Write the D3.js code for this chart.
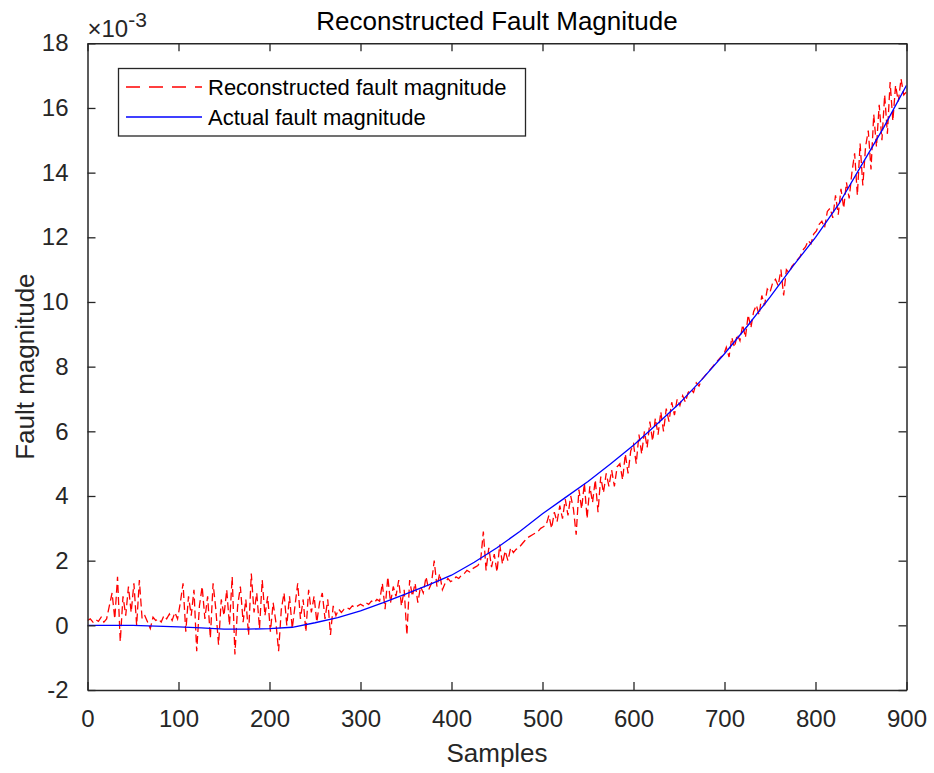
<!DOCTYPE html>
<html><head><meta charset="utf-8">
<script src="https://cdn.jsdelivr.net/npm/d3@7"></script>
<style>body{margin:0;background:#fff;} svg{display:block;}</style>
</head><body><svg id="c" width="934" height="773"></svg>
<script>
const xTicks = [0,100,200,300,400,500,600,700,800,900];
const yTicks = [-2,0,2,4,6,8,10,12,14,16,18];
const redStep = 3;
const reconstructed = [
0.15,0.2,0.1,0.18,0.12,0.25,0.1,0.2,
0.6,1.0,0.2,1.5,-0.5,0.9,0.3,1.2,0.4,1.3,0.0,1.4,0.2,
0.3,0.1,-0.1,0.25,0.15,0.2,0.1,0.3,0.2,0.35,0.15,0.4,0.2,
0.7,1.3,-0.2,0.9,0.3,1.1,-0.8,0.6,1.2,0.2,0.9,-0.4,1.3,0.5,-0.6,0.8,0.3,1.1,0.0,1.5,
-0.9,0.6,1.2,0.1,0.8,-0.3,1.6,0.4,1.0,-0.1,1.4,0.3,0.9,-0.2,0.7,0.1,-0.8,0.5,1.0,0.0,
0.9,-0.1,0.6,1.3,0.2,0.8,-0.2,1.1,0.4,0.9,0.1,0.7,1.0,0.2,0.8,-0.3,0.6,0.3,0.5,0.4,
0.5,0.55,0.5,0.6,0.55,0.6,0.65,0.6,0.7,0.65,0.75,0.7,0.8,0.75,
1.3,0.5,1.5,0.7,1.2,0.9,1.4,0.6,1.1,-0.3,1.4,0.9,1.3,0.7,1.2,1.0,1.5,1.1,1.3,2.0,1.2,1.6,1.1,1.3,
1.45,1.35,1.4,1.5,1.45,1.55,1.6,1.7,1.65,1.75,1.8,1.85,
2.0,2.9,1.7,2.4,1.8,2.2,1.65,2.5,1.9,2.3,2.0,2.4,2.25,2.35,2.4,
2.5,2.6,2.7,2.75,2.8,2.85,2.9,3.0,3.05,3.1,
3.4,3.0,3.5,3.2,3.7,3.3,3.9,3.4,4.0,3.6,2.8,4.2,3.6,4.4,3.3,4.3,3.8,4.5,3.5,4.6,4.1,4.7,4.3,
4.8,4.3,4.9,5.0,4.5,5.3,4.7,5.4,
5.6,5.0,5.9,5.3,6.0,5.5,6.3,5.7,6.4,5.9,6.6,6.0,6.7,6.3,6.9,6.5,7.0,6.8,7.1,6.9,7.2,
7.3,7.2,7.5,7.4,7.6,7.7,7.8,7.9,8.0,8.1,8.2,8.3,8.35,
8.6,8.3,8.9,8.6,9.0,8.8,9.3,8.9,9.6,9.2,9.7,9.9,9.6,10.2,9.9,10.4,10.3,10.6,10.7,10.5,11.0,10.2,11.0,10.9,11.1,11.2,
11.3,11.4,11.6,11.7,11.9,11.8,12.1,12.2,12.4,12.5,12.3,12.8,12.9,12.6,
13.3,12.7,13.5,12.9,13.7,13.2,14.0,14.6,13.3,14.9,13.6,14.8,15.3,14.1,15.8,14.8,16.1,15.0,16.4,15.2,16.8,15.6,16.7,16.2,16.9,16.4,16.5
];
const actualSamples = [0,50,100,125,150,175,200,225,250,275,300,325,350,375,400,425,450,475,500,525,550,575,600,625,650,675,700,725,750,775,800,825,850,875,900];
const actualValues = [0,0,-0.05,-0.08,-0.12,-0.12,-0.1,-0.06,0.08,0.24,0.45,0.7,0.97,1.25,1.55,1.95,2.4,2.9,3.45,3.95,4.45,5.0,5.57,6.2,6.85,7.6,8.4,9.25,10.15,11.1,12.0,13.0,14.2,15.4,16.7];
const legendLabels = ["Reconstructed fault magnitude","Actual fault magnitude"];

const svg = d3.select("#c");
const L=87.5,R=906.5,T=43.3,B=690;
const x = d3.scaleLinear().domain([0,900]).range([L,R]);
const y = d3.scaleLinear().domain([-2,18]).range([B,T]);
const ink = "#262626";
const font = "'Liberation Sans', Arial, Helvetica, sans-serif";

svg.append("clipPath").attr("id","pc").append("rect")
  .attr("x",L).attr("y",T).attr("width",R-L).attr("height",B-T);

const redData = reconstructed.map((v,i)=>[i*redStep,v]);
const blueData = actualSamples.map((s,i)=>[s,actualValues[i]]);
const line = d3.line().x(d=>x(d[0])).y(d=>y(d[1]));

const g = svg.append("g").attr("clip-path","url(#pc)");
g.append("path").attr("d",line(redData)).attr("fill","none")
  .attr("stroke","#ff0000").attr("stroke-width",1.3).attr("stroke-dasharray","8,4");
g.append("path").attr("d",line(blueData)).attr("fill","none")
  .attr("stroke","#0000ff").attr("stroke-width",1.3);

const tl = 8;
const fmt = d => String(d);
const axB = d3.axisBottom(x).tickValues(xTicks).tickFormat(fmt).tickSize(-tl).tickPadding(tl+12).tickSizeOuter(0);
const axT = d3.axisTop(x).tickValues(xTicks).tickSize(-tl).tickFormat("").tickSizeOuter(0);
const axL = d3.axisLeft(y).tickValues(yTicks).tickFormat(fmt).tickSize(-tl).tickPadding(tl+11).tickSizeOuter(0);
const axR = d3.axisRight(y).tickValues(yTicks).tickSize(-tl).tickFormat("").tickSizeOuter(0);
function style(sel){
  sel.selectAll("path").attr("stroke",ink).attr("stroke-width",1.5);
  sel.selectAll("line").attr("stroke",ink).attr("stroke-width",1.3);
  sel.selectAll("text").attr("fill",ink).attr("font-family",font).attr("font-size",24);
}
svg.append("g").attr("transform",`translate(0,${B})`).call(axB).call(style);
svg.append("g").attr("transform",`translate(0,${T})`).call(axT).call(style);
svg.append("g").attr("transform",`translate(${L},0)`).call(axL).call(style);
svg.append("g").attr("transform",`translate(${R},0)`).call(axR).call(style);

const ex = svg.append("text").attr("x",L).attr("y",37).attr("fill",ink).attr("font-family",font).attr("font-size",24);
ex.append("tspan").text("×10");
ex.append("tspan").attr("dy",-10).attr("font-size",21).text("-3");

svg.append("text").attr("x",(L+R)/2).attr("y",30).attr("text-anchor","middle")
  .attr("fill","#000").attr("font-family",font).attr("font-size",26).text("Reconstructed Fault Magnitude");
svg.append("text").attr("x",(L+R)/2).attr("y",762).attr("text-anchor","middle")
  .attr("fill",ink).attr("font-family",font).attr("font-size",26).text("Samples");
svg.append("text").attr("transform",`translate(34,${(T+B)/2}) rotate(-90)`).attr("text-anchor","middle")
  .attr("fill",ink).attr("font-family",font).attr("font-size",26).text("Fault magnitude");

const lg = svg.append("g");
lg.append("rect").attr("x",118.5).attr("y",68.5).attr("width",407).attr("height",67.5)
  .attr("fill","#fff").attr("stroke",ink).attr("stroke-width",1.3);
const lgColors = ["#ff0000","#0000ff"], lgDash = ["14,9",null], lgY=[87,117];
legendLabels.forEach((t,i)=>{
  lg.append("line").attr("x1",126).attr("x2",202).attr("y1",lgY[i]).attr("y2",lgY[i])
    .attr("stroke",lgColors[i]).attr("stroke-width",1.3).attr("stroke-dasharray",lgDash[i]);
  lg.append("text").attr("x",208).attr("y",lgY[i]+8).attr("fill","#000")
    .attr("font-family",font).attr("font-size",22).text(t);
});
</script></body></html>
